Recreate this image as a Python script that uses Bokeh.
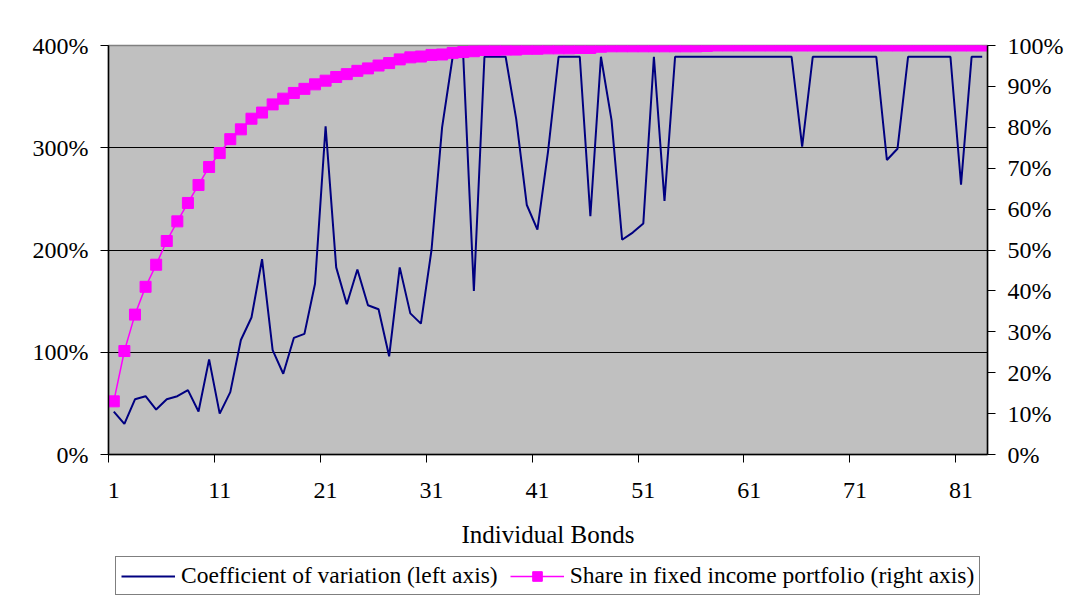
from bokeh.plotting import figure
from bokeh.layouts import column
from bokeh.models import (Range1d, LinearAxis, FixedTicker, Legend, LegendItem,
                          CustomJSTickFormatter, Grid)
from bokeh.embed import file_html
from bokeh.resources import INLINE

# ---- data ----
bonds = list(range(1, 84))
coef_var = [42, 30, 54, 57, 44, 54, 57, 63, 42, 93,
            40, 61, 112, 134, 191, 102, 79, 114, 118, 167,
            321, 183, 147, 181, 146, 142, 96, 183, 138, 128,
            200, 320, 389, 389, 160, 389, 389, 389, 328, 244,
            220, 296, 389, 389, 389, 233, 389, 327, 210, 217,
            226, 389, 248, 389, 389, 389, 389, 389, 389, 389,
            389, 389, 389, 389, 389, 301, 389, 389, 389, 389,
            389, 389, 389, 288, 299, 389, 389, 389, 389, 389,
            264, 389, 389]
share = [13.0, 25.3, 34.2, 41.0, 46.4, 52.2, 57.0, 61.5, 65.9, 70.3,
         73.7, 77.1, 79.5, 82.1, 83.6, 85.6, 87.0, 88.4, 89.4, 90.5,
         91.4, 92.3, 93.0, 93.8, 94.4, 95.1, 95.7, 96.6, 97.1, 97.3,
         97.7, 97.8, 98.2, 98.4, 98.6, 98.9, 98.9, 99.0, 99.0, 99.2,
         99.2, 99.3, 99.3, 99.3, 99.4, 99.4, 99.7, 99.8, 99.8, 99.8,
         99.8, 99.8, 99.8, 99.8, 99.8, 99.8, 99.9, 100, 100, 100,
         100, 100, 100, 100, 100, 100, 100, 100, 100, 100,
         100, 100, 100, 100, 100, 100, 100, 100, 100, 100,
         100, 100, 100]
x_tick_labels = [1, 11, 21, 31, 41, 51, 61, 71, 81]
left_ticks = [0, 100, 200, 300, 400]
right_ticks = [0, 10, 20, 30, 40, 50, 60, 70, 80, 90, 100]

FONT = "Liberation Serif"
FS = "24px"
BLUE = "#000080"
MAGENTA = "#FF00FF"

p = figure(width=1075, height=553, output_backend="svg", toolbar_location=None,
           x_range=Range1d(0.5, 83.5), y_range=Range1d(0, 400),
           min_border_left=108, min_border_right=88, min_border_top=45,
           min_border_bottom=99, x_axis_type=None, y_axis_type=None)
p.border_fill_color = "white"
p.background_fill_color = "#C0C0C0"
p.outline_line_color = "#808080"
p.outline_line_width = 1.5
p.extra_y_ranges = {"right": Range1d(0, 100)}

# x axis
xax = LinearAxis(ticker=FixedTicker(ticks=x_tick_labels,
                                    minor_ticks=[b - 0.5 for b in x_tick_labels]),
                 axis_label="Individual Bonds")
xax.major_tick_out = 0
xax.major_tick_in = 0
xax.minor_tick_out = 8
xax.minor_tick_in = 0
xax.minor_tick_line_color = "black"
xax.axis_line_color = "black"
xax.axis_line_width = 1.5
xax.major_label_text_font = FONT
xax.major_label_text_font_size = FS
xax.major_label_text_color = "black"
xax.major_label_standoff = 20
xax.axis_label_text_font = FONT
xax.axis_label_text_font_size = "25px"
xax.axis_label_text_font_style = "normal"
xax.axis_label_text_color = "black"
xax.axis_label_standoff = 20
p.add_layout(xax, "below")

pct = CustomJSTickFormatter(code="return tick + '%';")

yax = LinearAxis(ticker=FixedTicker(ticks=left_ticks), formatter=pct)
yax.major_tick_out = 8
yax.major_tick_in = 0
yax.minor_tick_out = 0
yax.minor_tick_in = 0
yax.axis_line_color = "black"
yax.axis_line_width = 1.5
yax.major_label_text_font = FONT
yax.major_label_text_font_size = FS
yax.major_label_text_color = "black"
yax.major_label_standoff = 12
p.add_layout(yax, "left")

rax = LinearAxis(y_range_name="right", ticker=FixedTicker(ticks=right_ticks), formatter=pct)
rax.major_tick_out = 8
rax.major_tick_in = 0
rax.minor_tick_out = 0
rax.minor_tick_in = 0
rax.axis_line_color = "black"
rax.axis_line_width = 1.5
rax.major_label_text_font = FONT
rax.major_label_text_font_size = FS
rax.major_label_text_color = "black"
rax.major_label_standoff = 12
p.add_layout(rax, "right")

# horizontal gridlines
g = Grid(dimension=1, ticker=FixedTicker(ticks=left_ticks))
g.grid_line_color = "black"
g.grid_line_width = 1.2
p.add_layout(g)

p.line(bonds, coef_var, line_color=BLUE, line_width=2)
p.line(bonds, share, line_color=MAGENTA, line_width=1.5, y_range_name="right")
p.scatter(bonds, share, marker="square", size=11, fill_color=MAGENTA,
          line_color=MAGENTA, y_range_name="right")

# ---- legend strip (separate figure so the box is not clipped) ----
q = figure(width=1075, height=47, output_backend="svg", toolbar_location=None,
           x_range=Range1d(-20, -10), y_range=Range1d(-20, -10),
           min_border_left=108, min_border_right=88, min_border_top=0,
           min_border_bottom=0, x_axis_type=None, y_axis_type=None)
q.outline_line_color = None
q.background_fill_color = "white"
q.border_fill_color = "white"
q.xgrid.visible = False
q.ygrid.visible = False
r1 = q.line(bonds, coef_var, line_color=BLUE, line_width=2)
r2 = q.line(bonds, share, line_color=MAGENTA, line_width=1.5)
r3 = q.scatter(bonds, share, marker="square", size=11, fill_color=MAGENTA,
               line_color=MAGENTA)

legend = Legend(items=[
    LegendItem(label="Coefficient of variation (left axis)", renderers=[r1]),
    LegendItem(label="Share in fixed income portfolio (right axis)", renderers=[r2, r3]),
], orientation="horizontal", location=(7, 5))
legend.label_text_font = FONT
legend.label_text_font_size = "23.5px"
legend.label_text_color = "black"
legend.border_line_color = "black"
legend.border_line_width = 1
legend.background_fill_color = "white"
legend.background_fill_alpha = 1
legend.glyph_width = 54
legend.glyph_height = 24
legend.label_standoff = 6
legend.spacing = 12
legend.padding = 5
legend.margin = 0
q.add_layout(legend, "center")

layout = column(p, q, spacing=0)
open("out.html", "w").write(file_html(layout, INLINE))
